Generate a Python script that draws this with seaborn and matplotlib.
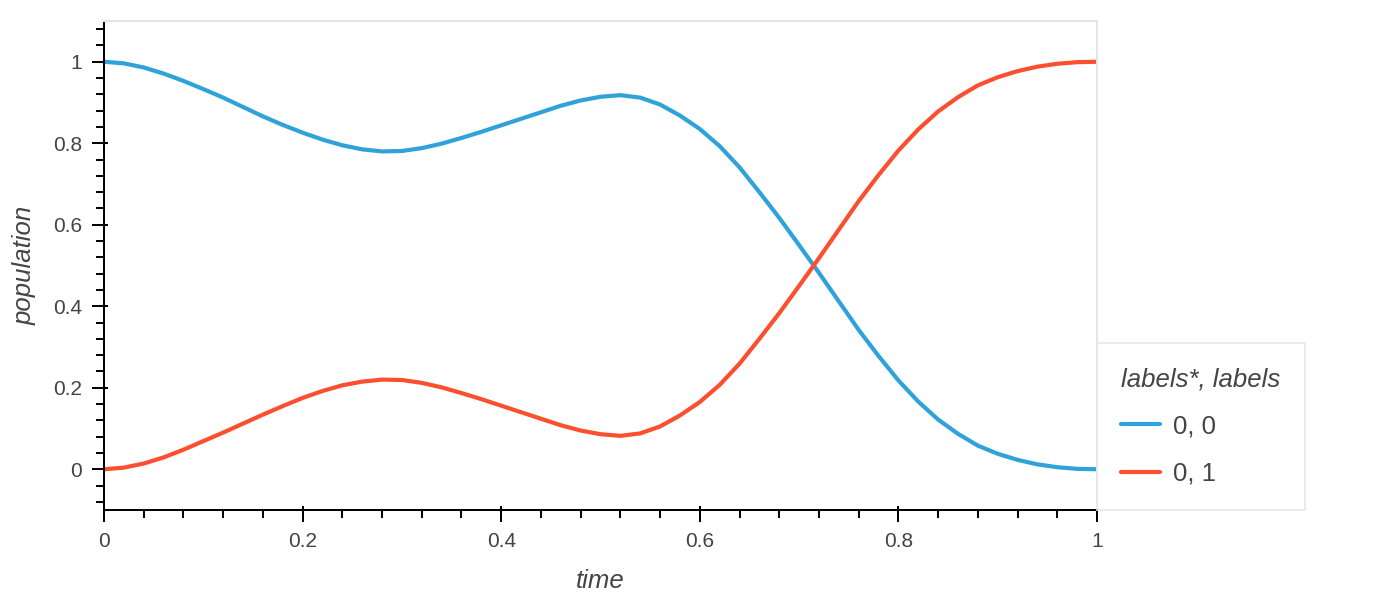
"""Population of two label states over time."""

import pandas as pd
import seaborn as sns
import matplotlib
matplotlib.use('Agg')
import matplotlib.pyplot as plt
from matplotlib.ticker import MultipleLocator, FuncFormatter, NullLocator

# values
time = [0.00, 0.02, 0.04, 0.06, 0.08, 0.10, 0.12, 0.14, 0.16, 0.18,
        0.20, 0.22, 0.24, 0.26, 0.28, 0.30, 0.32, 0.34, 0.36, 0.38,
        0.40, 0.42, 0.44, 0.46, 0.48, 0.50, 0.52, 0.54, 0.56, 0.58,
        0.60, 0.62, 0.64, 0.66, 0.68, 0.70, 0.72, 0.74, 0.76, 0.78,
        0.80, 0.82, 0.84, 0.86, 0.88, 0.90, 0.92, 0.94, 0.96, 0.98, 1.00]
pop_00 = [1.000, 0.996, 0.986, 0.971, 0.953, 0.933, 0.912, 0.889, 0.866, 0.845,
          0.826, 0.809, 0.795, 0.785, 0.780, 0.781, 0.788, 0.799, 0.813, 0.828,
          0.844, 0.860, 0.876, 0.892, 0.905, 0.914, 0.918, 0.912, 0.895, 0.868,
          0.835, 0.793, 0.741, 0.680, 0.617, 0.550, 0.482, 0.412, 0.342, 0.278,
          0.218, 0.166, 0.122, 0.087, 0.058, 0.038, 0.023, 0.012, 0.005, 0.001, 0.000]
pop_01 = [0.000, 0.004, 0.014, 0.029, 0.048, 0.069, 0.090, 0.112, 0.134, 0.155,
          0.175, 0.192, 0.206, 0.215, 0.220, 0.219, 0.212, 0.201, 0.187, 0.172,
          0.156, 0.140, 0.124, 0.108, 0.095, 0.086, 0.082, 0.088, 0.105, 0.132,
          0.165, 0.207, 0.259, 0.320, 0.383, 0.450, 0.518, 0.588, 0.658, 0.722,
          0.782, 0.834, 0.878, 0.913, 0.942, 0.962, 0.977, 0.988, 0.995, 0.999, 1.000]
series_labels = ['0, 0', '0, 1']
legend_title = 'labels*, labels'
colors = ['#30a2da', '#fc4f30']

df = pd.DataFrame({
    'time': time * 2,
    'population': pop_00 + pop_01,
    legend_title: [series_labels[0]] * len(time) + [series_labels[1]] * len(time),
})

sns.set_theme(style='ticks')
plt.rcParams['font.family'] = ['Liberation Sans', 'DejaVu Sans']

fig = plt.figure(figsize=(14, 6), dpi=100)
ax = fig.add_axes([104 / 1400, 90 / 600, 993 / 1400, 489 / 600])

sns.lineplot(data=df, x='time', y='population', hue=legend_title,
             hue_order=series_labels, palette=colors, linewidth=3,
             estimator=None, sort=False, ax=ax)

ax.set_xlim(0, 1)
ax.set_ylim(-0.1, 1.1)

def fmt(v, pos):
    v = round(v, 6)
    return '0' if v == 0 else f'{v:g}'

for axis in (ax.xaxis, ax.yaxis):
    axis.set_major_locator(MultipleLocator(0.2))
    axis.set_minor_locator(MultipleLocator(0.04))
    axis.set_major_formatter(FuncFormatter(fmt))

ax.tick_params(which='major', direction='out', length=8.6, width=1.44,
               color='black', labelsize=15, labelcolor='#444444', pad=7)
ax.tick_params(which='minor', direction='out', length=5.8, width=1.44, color='black')

# short inward stubs on the major ticks (bokeh style in/out ticks)
xmaj = [v for v in ax.get_xticks() if 0 <= v <= 1]
ymaj = [v for v in ax.get_yticks() if -0.1 <= v <= 1.1]
secx = ax.secondary_xaxis('bottom')
secx.set_xticks(xmaj)
secx.xaxis.set_minor_locator(NullLocator())
secx.tick_params(direction='in', length=2.9, width=1.44, color='black', labelbottom=False)
secx.spines['bottom'].set_visible(False)
secy = ax.secondary_yaxis('left')
secy.set_yticks(ymaj)
secy.yaxis.set_minor_locator(NullLocator())
secy.tick_params(direction='in', length=2.9, width=1.44, color='black', labelleft=False)
secy.spines['left'].set_visible(False)

ax.set_xlabel('time', fontsize=18.5, style='italic', color='#444444', labelpad=13)
ax.set_ylabel('population', fontsize=18.5, style='italic', color='#444444', labelpad=12)

for side in ('top', 'right'):
    ax.spines[side].set_color('#e5e5e5')
    ax.spines[side].set_linewidth(1.44)
for side in ('left', 'bottom'):
    ax.spines[side].set_color('black')
    ax.spines[side].set_linewidth(1.44)

handles, labels = ax.get_legend_handles_labels()
ax.get_legend().remove()
leg = ax.legend(handles, labels, title=legend_title, loc='lower left',
                bbox_to_anchor=(1.0, 0.0), borderaxespad=0, frameon=True,
                fancybox=False, edgecolor='#e5e5e5', fontsize=18.5,
                title_fontproperties={'style': 'italic', 'size': 18.5},
                alignment='left', handlelength=1.5, handletextpad=0.5,
                labelspacing=0.9, borderpad=0.95)
leg.get_frame().set_linewidth(1.44)
leg.get_title().set_color('#444444')
for t in leg.get_texts():
    t.set_color('#444444')

plt.savefig('out.png', dpi=100)
